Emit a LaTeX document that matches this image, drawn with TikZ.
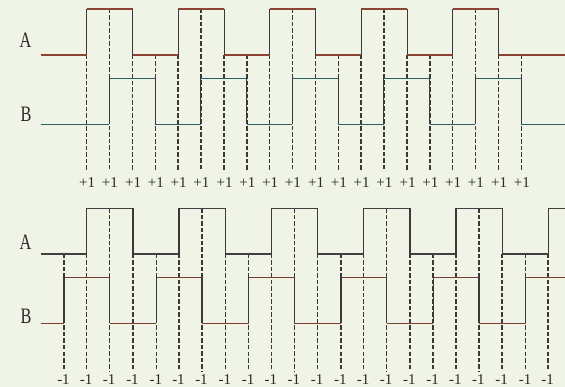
\documentclass[tikz,border=0pt]{standalone}
\usepackage{fontspec}
\setmainfont{Liberation Serif}
\definecolor{bg}{HTML}{EFF4E6}
\definecolor{topAc}{HTML}{8C4434}
\definecolor{topBc}{HTML}{2D5D66}
\definecolor{botAc}{HTML}{404040}
\definecolor{botBc}{HTML}{7A3E30}
\definecolor{edgec}{HTML}{3A3A3A}
\definecolor{dashc}{HTML}{383838}
\definecolor{txtc}{HTML}{2A2A2A}
\tikzset{
  wave/.style={line width=1.25pt},
  topA/.style={wave,topAc},
  topB/.style={wave,topBc},
  botA/.style={wave,botAc},
  botB/.style={wave,botBc},
  edge/.style={wave,edgec},
  dashline/.style={line width=1.45pt,dashc,dash pattern=on 4.5pt off 2pt},
  sig/.style={font=\fontsize{22}{22}\selectfont,xscale=0.74,text=txtc,inner sep=0pt},
  cnt/.style={font=\fontsize{15}{15}\selectfont,text=txtc,inner sep=0pt},
}
\begin{document}
\begin{tikzpicture}[x=1pt,y=-1pt]
\fill[bg] (0,0) rectangle (565,387);
\useasboundingbox (0,0) rectangle (565,387);
% ---------- top: counting up ----------
\foreach \i in {0,...,4}{
  \pgfmathsetmacro\r{86.7+91.5*\i}
  \pgfmathsetmacro\f{\r+46}
  \pgfmathsetmacro\br{\r+22.6}
  \pgfmathsetmacro\bf{\f+22.6}
  \draw[dashline] (\r,55) -- (\r,171.5);
  \draw[dashline] (\f,55) -- (\f,171.5);
  \draw[dashline] (\br,9) -- (\br,171.5);
  \draw[dashline] (\bf,55) -- (\bf,171.5);
  \node[cnt] (tl\i a) at (\r+0.5,183) {+1};
  \node[cnt] (tl\i b) at (\br+0.5,183) {+1};
  \node[cnt] (tl\i c) at (\f+0.5,183) {+1};
  \node[cnt] (tl\i d) at (\bf+0.5,183) {+1};
}
\foreach \i in {0,...,4}{
  \pgfmathsetmacro\r{86.7+91.5*\i}
  \pgfmathsetmacro\f{\r+46}
  \pgfmathsetmacro\n{\i<4 ? \r+91.5 : 565}
  \pgfmathsetmacro\br{\r+22.6}
  \pgfmathsetmacro\bf{\f+22.6}
  \pgfmathsetmacro\bn{\i<4 ? \br+91.5 : 565}
  \draw[topA] (\r,9) -- (\f,9) (\f,55) -- (\n,55);
  \draw[topB] (\br,78.3) -- (\bf,78.3) (\bf,124.3) -- (\bn,124.3);
  \draw[edge] (\r,9) -- (\r,55) (\f,9) -- (\f,55);
  \draw[edge] (\br,78.3) -- (\br,124.3) (\bf,78.3) -- (\bf,124.3);
}
\draw[topA] (40.7,55) -- (86.7,55);
\draw[topB] (40.7,124.3) -- (109.3,124.3);
\node[sig] (tA) at (25.5,40) {A};
\node[sig] (tB) at (26,114) {B};
% ---------- bottom: counting down ----------
\foreach \i in {0,...,5}{
  \pgfmathsetmacro\r{86.7+92.3*\i}
  \pgfmathsetmacro\br{\r-22.7}
  \draw[dashline] (\r,254) -- (\r,371);
  \draw[dashline] (\br,254) -- (\br,371);
  \node[cnt] (bl\i a) at (\br-0.5,379.5) {-1};
  \node[cnt] (bl\i b) at (\r-0.5,379.5) {-1};
}
\foreach \i in {0,...,4}{
  \pgfmathsetmacro\r{86.7+92.3*\i}
  \pgfmathsetmacro\f{\r+46.3}
  \pgfmathsetmacro\bf{\r+23}
  \draw[dashline] (\f,254) -- (\f,371);
  \draw[dashline] (\bf,208.3) -- (\bf,371);
  \node[cnt] (bl\i c) at (\bf-0.5,379.5) {-1};
  \node[cnt] (bl\i d) at (\f-0.5,379.5) {-1};
}
\foreach \i in {0,...,4}{
  \pgfmathsetmacro\r{86.7+92.3*\i}
  \pgfmathsetmacro\f{\r+46.3}
  \pgfmathsetmacro\n{\r+92.3}
  \pgfmathsetmacro\br{\r-22.7}
  \pgfmathsetmacro\bf{\r+23}
  \pgfmathsetmacro\bn{\br+92.3}
  \draw[botA] (\r,208.3) -- (\f,208.3) (\f,254) -- (\n,254);
  \draw[botB] (\br,277.3) -- (\bf,277.3) (\bf,323.3) -- (\bn,323.3);
  \draw[edge] (\r,208.3) -- (\r,254) (\f,208.3) -- (\f,254);
  \draw[edge] (\br,277.3) -- (\br,323.3) (\bf,277.3) -- (\bf,323.3);
}
\draw[botA] (40.7,254) -- (86.7,254);
\draw[botA] (548.2,208.3) -- (565,208.3);
\draw[edge] (548.2,208.3) -- (548.2,254);
\draw[botB] (40.7,323.3) -- (64,323.3);
\draw[botB] (525.5,277.3) -- (565,277.3);
\draw[edge] (525.5,277.3) -- (525.5,323.3);
\node[sig] (bA) at (25.5,242) {A};
\node[sig] (bB) at (26,316) {B};
\end{tikzpicture}
\end{document}
